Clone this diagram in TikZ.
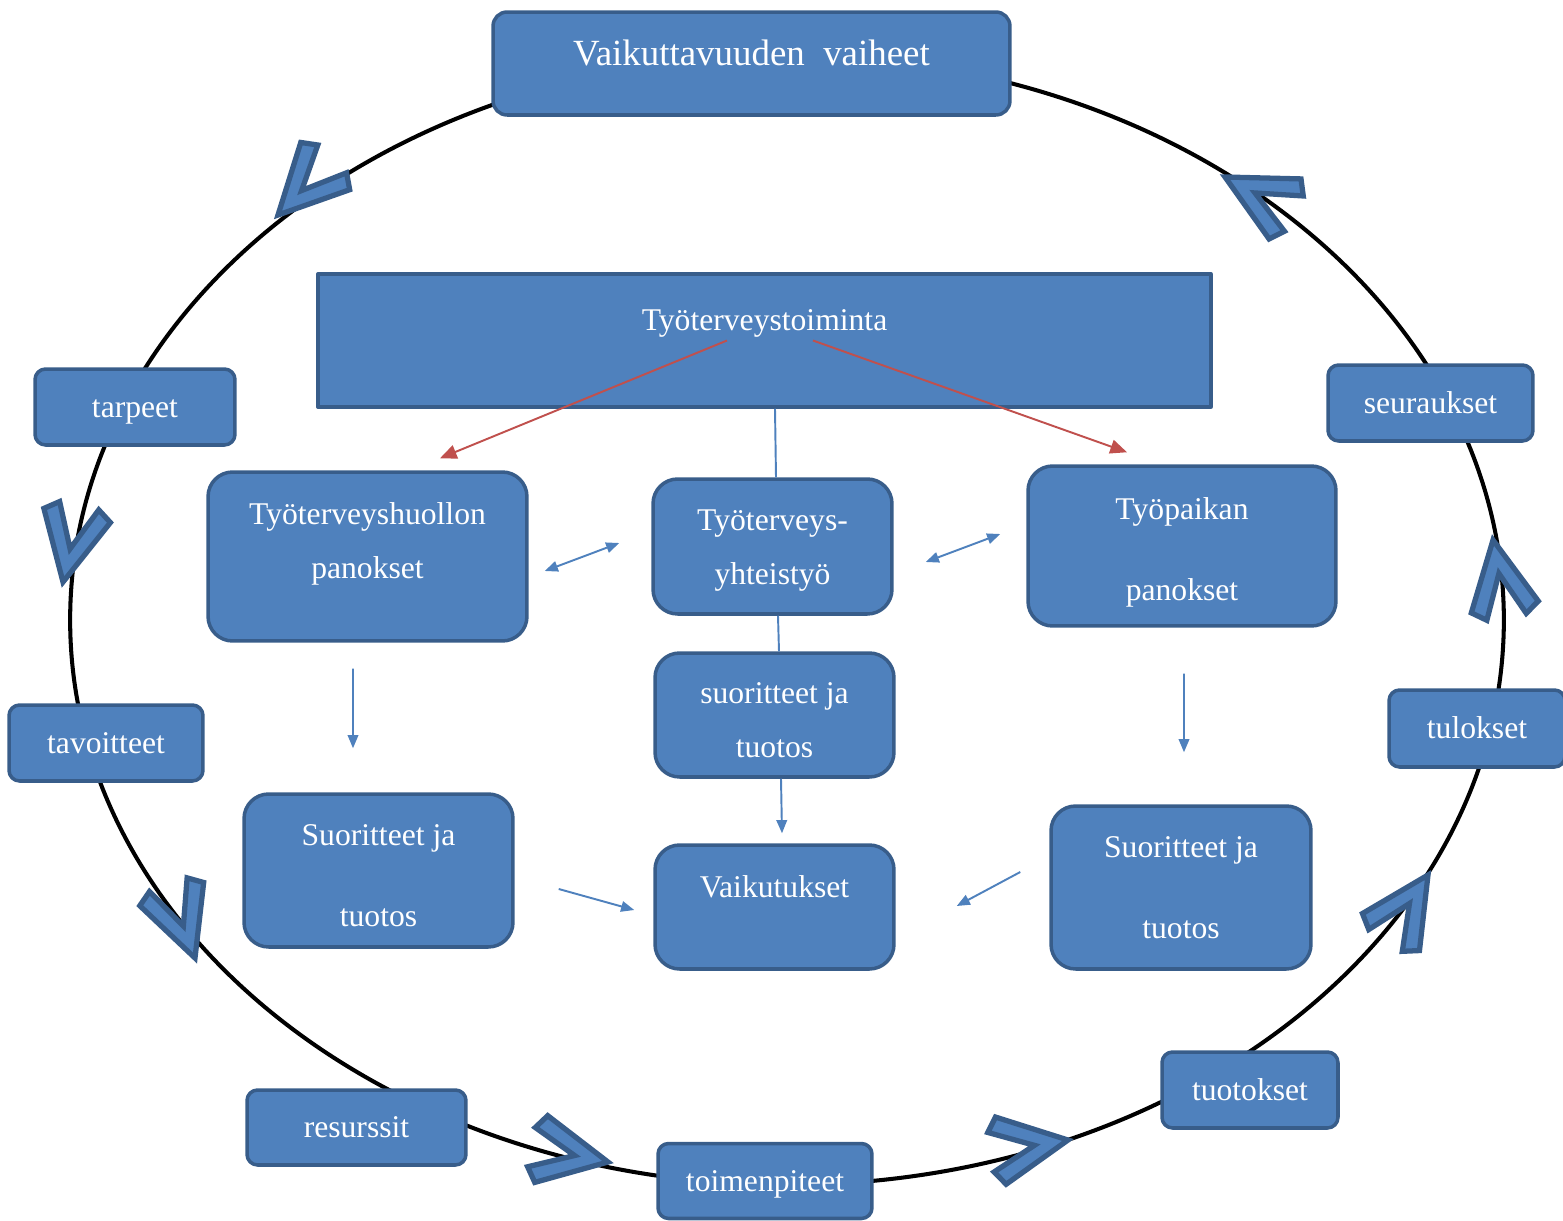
\documentclass[tikz,border=0pt]{standalone}
\usepackage{fontspec}
\setmainfont{Liberation Serif}
\usetikzlibrary{arrows.meta}
\definecolor{boxblue}{RGB}{79,129,189}
\definecolor{boxedge}{RGB}{56,93,138}
\definecolor{arrowred}{RGB}{192,80,77}

\begin{document}
\begin{tikzpicture}[x=0.02cm, y=-0.02cm, >={Triangle[length=7.5pt,width=6pt]}, line join=round,
    box/.style={draw=boxedge, fill=boxblue, line width=2pt, text=white, inner sep=0pt,
      align=center, font=\fontsize{18}{31}\selectfont},
    oneline/.style={text height=15.5pt, text depth=4pt},
    bigbox/.style={box, rounded corners=14pt},
    smallbox/.style={box, oneline, rounded corners=6pt},
    link/.style={boxblue, line width=1.1pt},
    redlink/.style={arrowred, line width=1.1pt, -{Triangle[length=9.5pt,width=8pt]}},
    chev/.style={fill=boxblue, draw=boxedge, line width=3pt, line join=miter}]
  \useasboundingbox (0,0) rectangle (1563,1221);
  \draw[line width=2.3pt] (787,620) ellipse [x radius=14.34cm, y radius=11.3cm];
  \foreach \px/\py/\ang in {278/215/226, 63/582/258, 195/958/290, 608/1162/349,
      1068/1140/9, 1428/875/57, 1493/540/100, 1225/177/152}
    \draw[chev, shift={(\px,\py)}, rotate=\ang]
      (0,0) -- (-68,34) -- (-78,20) -- (-34,0) -- (-78,-20) -- (-68,-34) -- cycle;

  \node[smallbox, rounded corners=8pt, minimum width=10.34cm, minimum height=2.06cm,
    font=\fontsize{21}{25}\selectfont, text height=15pt, text depth=12.6pt]
    (title) at (751.5,63.5) {Vaikuttavuuden \ vaiheet};
  \node[box, oneline, text depth=26.6pt, minimum width=17.86cm, minimum height=2.66cm]
    (toiminta) at (764.5,340.5) {Työterveystoiminta};

  \node[smallbox, minimum width=4cm, minimum height=1.52cm] (tarpeet) at (135,407) {tarpeet};
  \node[smallbox, minimum width=4.1cm, minimum height=1.52cm] (seuraukset) at (1430.5,403) {seuraukset};
  \node[smallbox, minimum width=3.88cm, minimum height=1.52cm] (tavoitteet) at (106,743) {tavoitteet};
  \node[smallbox, minimum width=3.52cm, minimum height=1.54cm] (tulokset) at (1477,728.5) {tulokset};
  \node[smallbox, minimum width=4.38cm, minimum height=1.5cm] (resurssit) at (356.5,1127.5) {resurssit};
  \node[smallbox, minimum width=4.28cm, minimum height=1.5cm] (toimenpiteet) at (765,1181) {toimenpiteet};
  \node[smallbox, minimum width=3.52cm, minimum height=1.52cm] (tuotokset) at (1250,1090) {tuotokset};

  \node[bigbox, minimum width=6.38cm, minimum height=3.38cm, text height=44pt, text depth=18.8pt]
    (huollon) at (367.5,556.5) {Työterveyshuollon\\panokset};
  \node[bigbox, minimum width=4.78cm, minimum height=2.7cm, text height=47.3pt, text depth=4pt]
    (yhteistyo) at (772.5,546.5) {Työterveys-\\yhteistyö};
  \node[bigbox, minimum width=6.16cm, minimum height=3.2cm, text height=66pt, text depth=4pt]
    (paikka) at (1182,546) {Työpaikan\\[15pt]panokset};
  \node[bigbox, minimum width=4.78cm, minimum height=2.48cm, text height=52.4pt, text depth=4pt]
    (suoritteet) at (774.5,715) {suoritteet ja\\tuotos};
  \node[bigbox, minimum width=5.38cm, minimum height=3.06cm, text height=67.7pt, text depth=4pt]
    (suorL) at (378.5,870.5) {Suoritteet ja\\[15pt]tuotos};
  \node[bigbox, oneline, text depth=26.1pt, minimum width=4.78cm, minimum height=2.48cm]
    (vaikutukset) at (774.5,907) {Vaikutukset};
  \node[bigbox, minimum width=5.2cm, minimum height=3.26cm]
    (suorR) at (1181,887.5) {Suoritteet ja\\[15pt]tuotos};

  \draw[redlink] ([xshift=-0.75cm]toiminta.center) -- ([xshift=1.45cm, yshift=0.24cm]huollon.north);
  \draw[redlink] ([xshift=0.97cm]toiminta.center) -- ([xshift=-1.1cm, yshift=0.24cm]paikka.north);

  \draw[link] ([xshift=0.21cm]toiminta.south) -- ([xshift=0.07cm]yhteistyo.north);
  \draw[link] ([xshift=0.11cm]yhteistyo.south) -- ([xshift=0.09cm]suoritteet.north);
  \draw[link, ->] ([xshift=0.13cm]suoritteet.south) -- ([xshift=0.15cm, yshift=0.2cm]vaikutukset.north);
  \draw[link, <->] ([xshift=0.32cm, yshift=-0.29cm]huollon.east) -- ([xshift=-0.64cm, yshift=0.07cm]yhteistyo.west);
  \draw[link, <->] ([xshift=0.64cm, yshift=-0.31cm]yhteistyo.east) -- ([xshift=-0.52cm, yshift=0.24cm]paikka.west);
  \draw[link, ->] ([xshift=-0.29cm, yshift=-0.52cm]huollon.south) -- ([xshift=-0.51cm, yshift=0.88cm]suorL.north);
  \draw[link, ->] ([xshift=0.04cm, yshift=-0.92cm]paikka.south) -- ([xshift=0.06cm, yshift=1.04cm]suorR.north);
  \draw[link, ->] ([xshift=0.88cm, yshift=-0.37cm]suorL.east) -- ([xshift=-0.38cm, yshift=-0.06cm]vaikutukset.west);
  \draw[link, ->] ([xshift=-0.58cm, yshift=0.31cm]suorR.west) -- ([xshift=1.22cm, yshift=0.02cm]vaikutukset.east);
\end{tikzpicture}
\end{document}
